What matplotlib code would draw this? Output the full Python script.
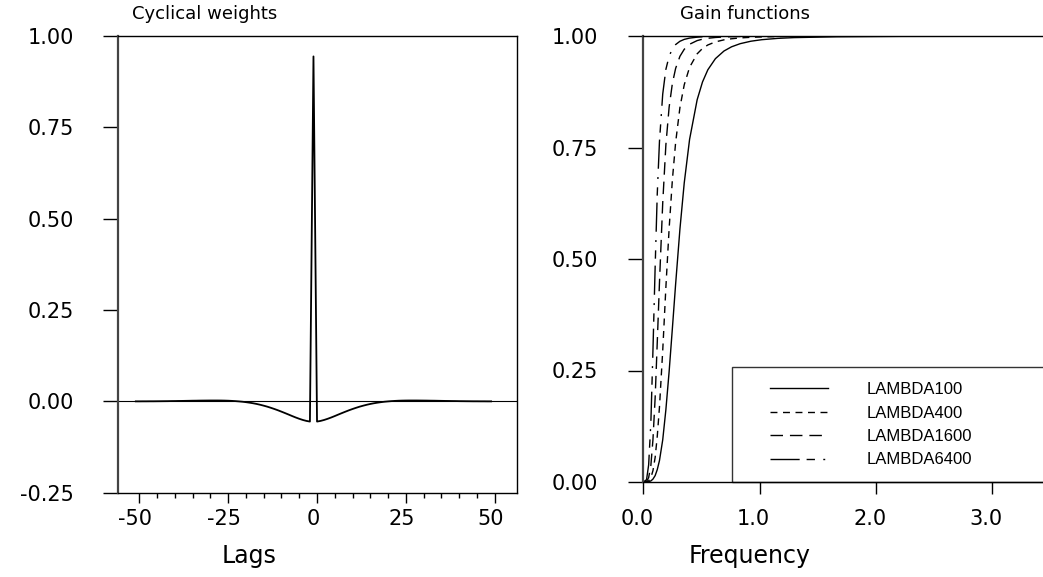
import matplotlib.pyplot as plt
from matplotlib.patches import Rectangle
from matplotlib.transforms import ScaledTranslation

plt.rcParams['font.family'] = ['DejaVu Sans']
plt.rcParams['axes.unicode_minus'] = False

# cyclical weights of the HP filter (lambda = 1600), lags -51 .. 49
lags = list(range(-51, 50))
weights = [
    0.0000, 0.0000, 0.0001, 0.0001, 0.0002, 0.0002, 0.0003, 0.0004, 0.0005,
    0.0006, 0.0008, 0.0009, 0.0011, 0.0012, 0.0014, 0.0016, 0.0018, 0.0019, 0.0021,
    0.0022, 0.0023, 0.0024, 0.0024, 0.0024, 0.0023, 0.0021, 0.0018, 0.0013, 0.0007,
    -0.0001, -0.0010, -0.0022, -0.0036, -0.0052, -0.0071, -0.0093, -0.0118, -0.0145, -0.0176,
    -0.0209, -0.0244, -0.0282, -0.0321, -0.0361, -0.0402, -0.0441, -0.0477, -0.0509, -0.0535,
    -0.0553,
    0.9441,
    -0.0553, -0.0535, -0.0509, -0.0477, -0.0441, -0.0402, -0.0361, -0.0321, -0.0282, -0.0244,
    -0.0209, -0.0176, -0.0145, -0.0118, -0.0093, -0.0071, -0.0052, -0.0036, -0.0022, -0.0010,
    -0.0001, 0.0007, 0.0013, 0.0018, 0.0021, 0.0023, 0.0024, 0.0024, 0.0024, 0.0023,
    0.0022, 0.0021, 0.0019, 0.0018, 0.0016, 0.0014, 0.0012, 0.0011, 0.0009, 0.0008,
    0.0006, 0.0005, 0.0004, 0.0003, 0.0002, 0.0002, 0.0001, 0.0001, 0.0000, 0.0000,
]

# gain functions of the cyclical component
freq = [0.000, 0.028, 0.046, 0.065, 0.083, 0.102, 0.120, 0.139, 0.167, 0.194,
        0.222, 0.250, 0.278, 0.315, 0.352, 0.398, 0.463, 0.509, 0.555, 0.620,
        0.694, 0.759, 0.833, 0.925, 1.018, 1.156, 1.295, 1.665, 2.220, 3.140]
gain100 = [0.0000, 0.0001, 0.0006, 0.0024, 0.0065, 0.0144, 0.0277, 0.0480, 0.0945, 0.1618,
           0.2473, 0.3443, 0.4438, 0.5672, 0.6706, 0.7683, 0.8570, 0.8969, 0.9243, 0.9492,
           0.9664, 0.9758, 0.9828, 0.9883, 0.9917, 0.9947, 0.9964, 0.9983, 0.9992, 0.9994]
gain400 = [0.0000, 0.0003, 0.0025, 0.0095, 0.0255, 0.0552, 0.1023, 0.1679, 0.2946, 0.4357,
           0.5679, 0.6774, 0.7614, 0.8398, 0.8906, 0.9299, 0.9600, 0.9721, 0.9799, 0.9868,
           0.9914, 0.9938, 0.9957, 0.9971, 0.9979, 0.9987, 0.9991, 0.9996, 0.9998, 0.9998]
gain1600 = [0.0000, 0.0013, 0.0099, 0.0370, 0.0949, 0.1895, 0.3130, 0.4466, 0.6256, 0.7554,
            0.8402, 0.8936, 0.9274, 0.9545, 0.9702, 0.9815, 0.9897, 0.9929, 0.9949, 0.9967,
            0.9978, 0.9985, 0.9989, 0.9993, 0.9995, 0.9997, 0.9998, 0.9999, 1.0000, 1.0000]
gain6400 = [0.0000, 0.0052, 0.0384, 0.1331, 0.2954, 0.4832, 0.6457, 0.7635, 0.8698, 0.9251,
            0.9546, 0.9711, 0.9808, 0.9882, 0.9924, 0.9953, 0.9974, 0.9982, 0.9987, 0.9992,
            0.9995, 0.9996, 0.9997, 0.9998, 0.9999, 0.9999, 1.0000, 1.0000, 1.0000, 1.0000]
series = ['LAMBDA100', 'LAMBDA400', 'LAMBDA1600', 'LAMBDA6400']

W, H = 1043, 577


def px_box(x0, y0, x1, y1):
    return [x0 / W, 1 - y1 / H, (x1 - x0) / W, (y1 - y0) / H]


fig = plt.figure(figsize=(W / 100, H / 100), dpi=100)

# left panel: weights against lags
ax1 = fig.add_axes(px_box(117.7, 36, 516.7, 492.7))
ax1.axhline(0, color='k', lw=0.8)
ax1.plot(lags, weights, color='k', lw=1.3)
ax1.set_xlim(-56.1, 56.2)
ax1.set_ylim(-0.25, 1.0)
ax1.set_yticks([-0.25, 0, 0.25, 0.5, 0.75, 1.0])
ax1.set_yticklabels(['-0.25', '0.00', '0.25', '0.50', '0.75', '1.00'])
ax1.set_xticks([-50, -25, 0, 25, 50])
ax1.set_xticks([v for v in range(-45, 50, 5) if v % 25], minor=True)
ax1.tick_params(axis='y', direction='out', length=10.8, width=1, pad=20.4, labelsize=15)
ax1.tick_params(axis='x', which='major', direction='out', length=7.4, width=1, pad=4.5, labelsize=15)
ax1.tick_params(axis='x', which='minor', direction='out', length=3.8, width=1)
for s in ax1.spines.values():
    s.set_linewidth(1.0)
ax1.spines['left'].set_color('#444444')
ax1.spines['left'].set_linewidth(1.6)

# right panel: gain functions
ax2 = fig.add_axes(px_box(643.3, 36, 643.3 + 3.6 * 116.3, 482))
styles = ['-', (0, (5, 4)), (0, (9, 5)), (0, (21, 5, 6, 6, 1.4, 6))]
for g, ls, name in zip([gain100, gain400, gain1600, gain6400], styles, series):
    ax2.plot(freq, g, color='k', lw=1.0, linestyle=ls, label=name)
ax2.set_xlim(0, 3.6)
ax2.set_ylim(0, 1.0)
ax2.set_yticks([0, 0.25, 0.5, 0.75, 1.0])
ax2.set_yticklabels(['0.00', '0.25', '0.50', '0.75', '1.00'])
ax2.set_xticks([0, 1, 2, 3])
ax2.set_xticklabels(['0.0', '1.0', '2.0', '3.0'])
ax2.tick_params(axis='y', direction='out', length=10.8, width=1, pad=21.6, labelsize=15)
ax2.tick_params(axis='x', direction='out', length=8.6, width=1, pad=11, labelsize=15)
for s in ax2.spines.values():
    s.set_linewidth(1.0)
ax2.spines['left'].set_color('#444444')
ax2.spines['left'].set_linewidth(1.6)
ax2.spines['right'].set_visible(False)

# x tick labels sit a little left of their ticks
for ax, dx in ((ax1, -4), (ax2, -6)):
    shift = ScaledTranslation(dx / 100, 0, fig.dpi_scale_trans)
    for lbl in ax.xaxis.get_majorticklabels():
        lbl.set_transform(lbl.get_transform() + shift)

# legend box runs off the right edge
x_box = (732.3 - 643.3) / (3.6 * 116.3)
ax2.add_patch(Rectangle((x_box, 0), 1.2, (482 - 367.3) / 446, transform=ax2.transAxes,
                        fill=False, ec='#333333', lw=1.0, clip_on=False))
ax2.legend(loc='upper left',
           bbox_to_anchor=((770 - 643.3) / (3.6 * 116.3), (482 - 382) / 446),
           frameon=False, borderpad=0, borderaxespad=0, handlelength=3.48,
           handletextpad=2.32, labelspacing=0.51,
           prop={'family': 'Liberation Sans', 'size': 12})

fig.text(132 / W, 1 - 19 / H, 'Cyclical weights', ha='left', va='baseline', fontsize=13)
fig.text(680 / W, 1 - 19 / H, 'Gain functions', ha='left', va='baseline', fontsize=13)
fig.text(248.6 / W, 1 - 563 / H, 'Lags', ha='center', va='baseline', fontsize=17)
fig.text(750 / W, 1 - 563 / H, 'Frequency', ha='center', va='baseline', fontsize=17)

fig.savefig('out.png', dpi=100)
